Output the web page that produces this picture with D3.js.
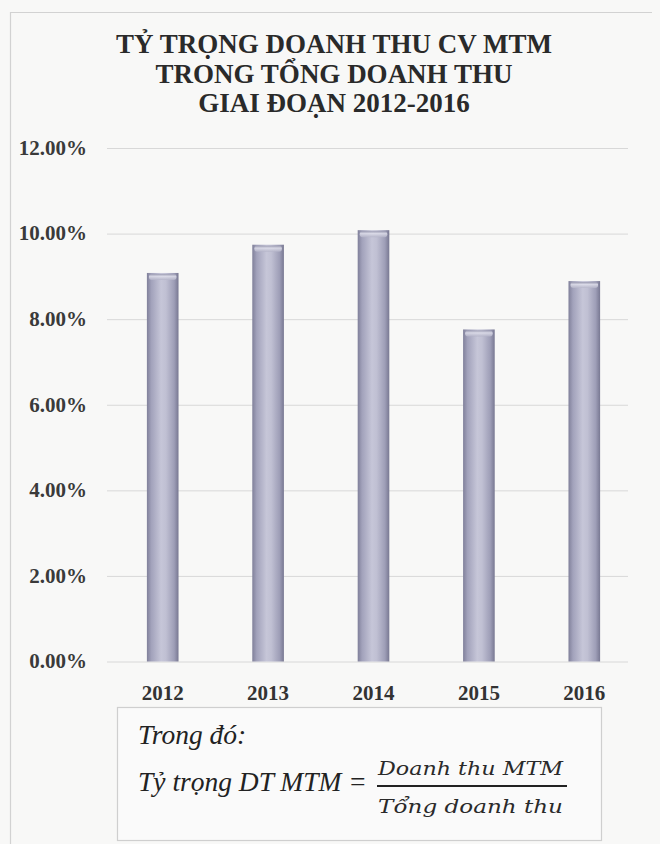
<!DOCTYPE html>
<html>
<head>
<meta charset="utf-8">
<script src="https://cdn.jsdelivr.net/npm/d3@7"></script>
<style>
  html, body { margin: 0; padding: 0; background: #f8f8f7; }
  svg { display: block; }
</style>
</head>
<body>
<svg id="chart" width="660" height="844"></svg>
<script>
// Share of MTM revenue in total revenue, 2012–2016 (percent)
const years = ["2012", "2013", "2014", "2015", "2016"];
const shares = [9.08, 9.74, 10.08, 7.76, 8.89];
const yTicks = [0, 2, 4, 6, 8, 10, 12];
const titleLines = ["TỶ TRỌNG DOANH THU CV MTM", "TRONG TỔNG DOANH THU", "GIAI ĐOẠN 2012-2016"];
const noteLabel = "Trong đó:";
const formulaLeft = "Tỷ trọng DT MTM =";
const formulaNum = "Doanh thu MTM";
const formulaDen = "Tổng doanh thu";

const svg = d3.select("#chart");
const serif = "'Liberation Serif', 'Times New Roman', serif";

// plot area
const plot = { left: 110, right: 637, top: 148, bottom: 661.5 };

const x = d3.scaleBand()
  .domain(years)
  .range([plot.left, plot.right])
  .paddingInner(0.7)
  .paddingOuter(0.35);

const y = d3.scaleLinear()
  .domain([0, 12])
  .range([plot.bottom, plot.top]);

// chart frame (top and left edges)
svg.append("path")
  .attr("d", "M10.5,844 L10.5,12.5 L652,12.5")
  .attr("fill", "none")
  .attr("stroke", "#d2d2d2")
  .attr("stroke-width", 1.2);

// title
svg.append("g")
  .selectAll("text")
  .data(titleLines)
  .join("text")
  .attr("x", 334)
  .attr("y", (d, i) => 53 + i * 29.5)
  .attr("text-anchor", "middle")
  .attr("font-family", serif)
  .attr("font-weight", "bold")
  .attr("font-size", 27)
  .attr("fill", "#2a2a2a")
  .text(d => d);

// gridlines and y labels
const yAxis = d3.axisLeft(y)
  .tickValues(yTicks)
  .tickSize(-(plot.right - plot.left - 6))
  .tickPadding(20)
  .tickFormat(d => d.toFixed(2) + "%");

const gy = svg.append("g")
  .attr("transform", `translate(${plot.left - 3},0)`)
  .call(yAxis);
gy.select(".domain").remove();
gy.selectAll(".tick line")
  .attr("stroke", "#d8d8d8")
  .attr("stroke-width", 1);
gy.selectAll(".tick text")
  .attr("font-family", serif)
  .attr("font-weight", "bold")
  .attr("font-size", 21)
  .attr("fill", "#3a3a3a")
  .attr("dy", "0.3em");

// bar shading
const defs = svg.append("defs");
const grad = defs.append("linearGradient")
  .attr("id", "barFill")
  .attr("x1", "0").attr("x2", "1").attr("y1", "0").attr("y2", "0");
[["0%", "#80809a"], ["14%", "#a2a2bb"], ["45%", "#c6c6d8"], ["60%", "#c0c0d3"], ["86%", "#9e9eb7"], ["100%", "#787892"]]
  .forEach(([o, c]) => grad.append("stop").attr("offset", o).attr("stop-color", c));

const capGrad = defs.append("linearGradient")
  .attr("id", "capFill")
  .attr("x1", "0").attr("x2", "0").attr("y1", "0").attr("y2", "1");
[["0%", "#9696ad"], ["40%", "#dedeea"], ["100%", "#b4b4c8"]]
  .forEach(([o, c]) => capGrad.append("stop").attr("offset", o).attr("stop-color", c));

// bars
const barData = years.map((yr, i) => ({ yr, v: shares[i] }));
const bars = svg.append("g");
bars.selectAll("rect.bar")
  .data(barData)
  .join("rect")
  .attr("class", "bar")
  .attr("x", d => x(d.yr))
  .attr("y", d => y(d.v))
  .attr("width", x.bandwidth())
  .attr("height", d => y(0) - y(d.v))
  .attr("fill", "url(#barFill)");

bars.selectAll("rect.cap")
  .data(barData)
  .join("rect")
  .attr("class", "cap")
  .attr("x", d => x(d.yr) + 2)
  .attr("y", d => y(d.v) + 1)
  .attr("width", x.bandwidth() - 4)
  .attr("height", 6)
  .attr("rx", 3)
  .attr("fill", "url(#capFill)")
  .attr("opacity", 0.85);

// year labels
const xAxis = d3.axisBottom(x).tickSize(0).tickPadding(0);
const gx = svg.append("g")
  .attr("transform", `translate(0,${plot.bottom})`)
  .call(xAxis);
gx.select(".domain").remove();
gx.selectAll(".tick text")
  .attr("font-family", serif)
  .attr("font-weight", "bold")
  .attr("font-size", 21)
  .attr("fill", "#333")
  .attr("y", 38)
  .attr("dy", 0);

// formula note box
const note = svg.append("g");
note.append("rect")
  .attr("x", 117.5).attr("y", 707.5)
  .attr("width", 484).attr("height", 133)
  .attr("fill", "#fafafa")
  .attr("stroke", "#cfcfcf")
  .attr("stroke-width", 1.2);

note.append("text")
  .attr("x", 138).attr("y", 744)
  .attr("font-family", serif)
  .attr("font-style", "italic")
  .attr("font-size", 27.5)
  .attr("fill", "#222")
  .text(noteLabel);

note.append("text")
  .attr("x", 138).attr("y", 791)
  .attr("font-family", serif)
  .attr("font-style", "italic")
  .attr("font-size", 27.5)
  .attr("fill", "#222")
  .text(formulaLeft);

note.append("text")
  .attr("x", 378).attr("y", 775)
  .attr("font-family", "'DejaVu Serif', serif")
  .attr("font-style", "italic")
  .attr("font-size", 19)
  .attr("fill", "#2a2a2a")
  .attr("textLength", 185)
  .attr("lengthAdjust", "spacingAndGlyphs")
  .text(formulaNum);

note.append("line")
  .attr("x1", 377).attr("x2", 567)
  .attr("y1", 786).attr("y2", 786)
  .attr("stroke", "#222")
  .attr("stroke-width", 2);

note.append("text")
  .attr("x", 378).attr("y", 813)
  .attr("font-family", "'DejaVu Serif', serif")
  .attr("font-style", "italic")
  .attr("font-size", 19)
  .attr("fill", "#2a2a2a")
  .attr("textLength", 185)
  .attr("lengthAdjust", "spacingAndGlyphs")
  .text(formulaDen);
</script>
</body>
</html>
